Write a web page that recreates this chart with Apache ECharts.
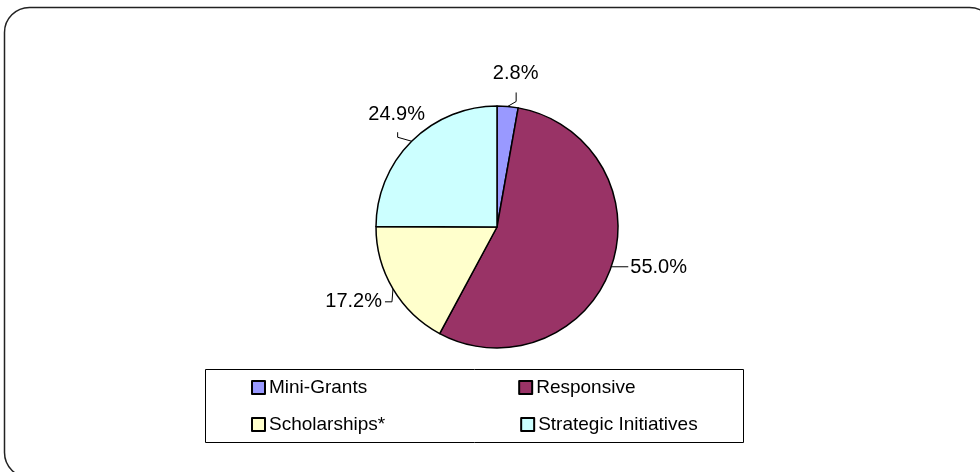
<!DOCTYPE html>
<html>
<head>
<meta charset="utf-8">
<script src="https://cdn.jsdelivr.net/npm/echarts@6/dist/echarts.min.js"></script>
<style>
html,body{margin:0;padding:0;background:#fff;}
#chart{width:980px;height:472px;}
</style>
</head>
<body>
<div id="chart"></div>
<script>
const categories = ['Mini-Grants', 'Responsive', 'Scholarships*', 'Strategic Initiatives'];
const values = [2.8, 55.0, 17.2, 24.9];
const colors = ['#9999FF', '#993366', '#FFFFCC', '#CCFFFF'];

const FONT = '"Liberation Sans", Arial, sans-serif';

// label placement tweaks (offsets relative to slice edge point), Excel-like
const labelTweaks = [
  { line: [[8.5, -5], [8.5, -14]], pos: [8, -33], align: 'center' },
  { line: [[17, 0]], pos: [19, 1], align: 'left' },
  { line: [[-1, 13], [-8, 13]], pos: [-11, 13], align: 'right' },
  { line: [[-14, -4], [-14, -9]], pos: [-15, -27], align: 'center' }
];

const chart = echarts.init(document.getElementById('chart'), null, { renderer: 'canvas' });

const legendCommon = {
  left: 251,
  padding: 0,
  itemWidth: 13,
  itemHeight: 13,
  icon: 'rect',
  selectedMode: false,
  textStyle: { fontFamily: FONT, fontSize: 19, color: '#000', padding: [0, 0, 0, -1] }
};

chart.setOption({
  animation: false,
  backgroundColor: '#fff',
  graphic: [
    {
      type: 'rect',
      shape: { x: 4.5, y: 7.5, width: 990, height: 470, r: 25 },
      style: { fill: 'none', stroke: '#222', lineWidth: 1.5 },
      silent: true
    },
    {
      type: 'rect',
      shape: { x: 205.5, y: 369.5, width: 538, height: 73 },
      style: { fill: 'none', stroke: '#000', lineWidth: 1 },
      silent: true
    }
  ],
  legend: [
    Object.assign({}, legendCommon, { top: 378, itemGap: 151, data: [categories[0], categories[1]] }),
    Object.assign({}, legendCommon, { top: 415, itemGap: 135, data: [categories[2], categories[3]] })
  ],
  series: [{
    type: 'pie',
    center: [497, 227],
    radius: 121,
    startAngle: 90,
    clockwise: true,
    avoidLabelOverlap: false,
    emphasis: { disabled: true },
    data: categories.map((c, i) => ({
      name: c,
      value: values[i],
      itemStyle: { color: colors[i] }
    })),
    itemStyle: { borderColor: '#000', borderWidth: 1.5 },
    label: {
      show: true,
      position: 'outside',
      formatter: p => p.value.toFixed(1) + '%',
      fontFamily: FONT,
      fontSize: 20,
      color: '#000'
    },
    labelLine: {
      show: true,
      length: 10,
      length2: 8,
      lineStyle: { color: '#000', width: 1 }
    },
    labelLayout: function (params) {
      const t = labelTweaks[params.dataIndex];
      const pts = params.labelLinePoints;
      if (!t || !pts) return {};
      const p0 = pts[0];
      const line = [[p0[0], p0[1]]].concat(t.line.map(o => [p0[0] + o[0], p0[1] + o[1]]));
      return {
        x: p0[0] + t.pos[0],
        y: p0[1] + t.pos[1],
        align: t.align,
        verticalAlign: 'middle',
        labelLinePoints: line
      };
    }
  }]
});
</script>
</body>
</html>
